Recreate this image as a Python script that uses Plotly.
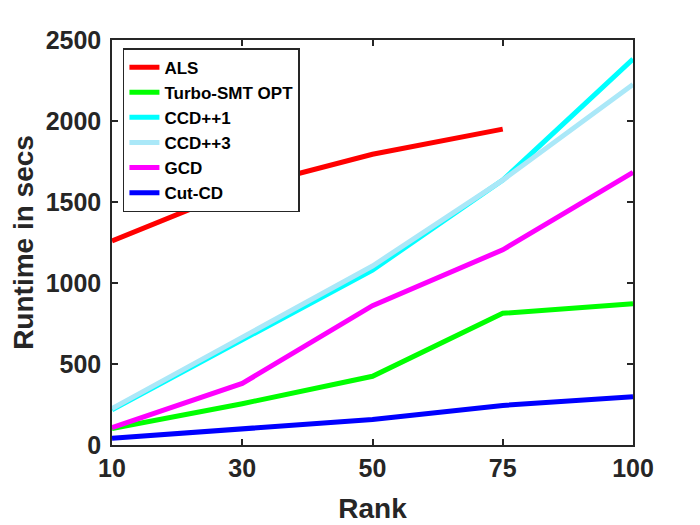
import plotly.graph_objects as go

ranks = ["10", "30", "50", "75", "100"]

als = [1260, 1585, 1795, 1950]
turbo_smt = [102, 255, 424, 813, 872]
ccd_pp1 = [218, 650, 1080, 1635, 2382]
ccd_pp3 = [225, 665, 1105, 1635, 2226]
gcd = [107, 380, 860, 1205, 1683]
cut_cd = [41, 98, 158, 244, 298]

series = [
    ("ALS", ranks[:4], als, "#ff0000"),
    ("Turbo-SMT OPT", ranks, turbo_smt, "#00ff00"),
    ("CCD++1", ranks, ccd_pp1, "#00ffff"),
    ("CCD++3", ranks, ccd_pp3, "#aae8f8"),
    ("GCD", ranks, gcd, "#ff00ff"),
    ("Cut-CD", ranks, cut_cd, "#0000ff"),
]

fig = go.Figure()
for name, xs, ys, color in series:
    fig.add_trace(go.Scatter(x=xs, y=ys, mode="lines", name=name,
                             line=dict(color=color, width=5)))

fig.add_annotation(x="75", y=2046, text="<b>o.m</b>", showarrow=False,
                   xshift=8, font=dict(size=20, color="#ff0000"))

axis_style = dict(showline=True, linecolor="#262626", linewidth=1.5, mirror="ticks",
                  ticks="inside", ticklen=6, tickwidth=1.5, tickcolor="#262626",
                  showgrid=False, zeroline=False, automargin=False,
                  tickfont=dict(size=25, color="#262626", weight="bold"))

# page body adds an 8px offset, so the figure is a bit smaller than the window
fig.update_layout(
    width=692, height=517,
    margin=dict(l=104, r=67, t=32, b=80),
    plot_bgcolor="white", paper_bgcolor="white",
    font=dict(family="Liberation Sans, Arial, sans-serif", color="#262626"),
    xaxis=dict(type="category", range=[0, 4],
               title=dict(text="<b>Rank</b>", font=dict(size=28), standoff=18),
               **axis_style),
    yaxis=dict(range=[0, 2500], dtick=500, ticklabelstandoff=4,
               title=dict(text="<b>Runtime in secs</b>", font=dict(size=28), standoff=12),
               **axis_style),
    legend=dict(x=0.021, y=0.98, xanchor="left", yanchor="top",
                bordercolor="#262626", borderwidth=1.5, bgcolor="white",
                font=dict(size=17, color="black", weight="bold"),
                tracegroupgap=0),
    showlegend=True,
)

fig.write_html("out.html")
